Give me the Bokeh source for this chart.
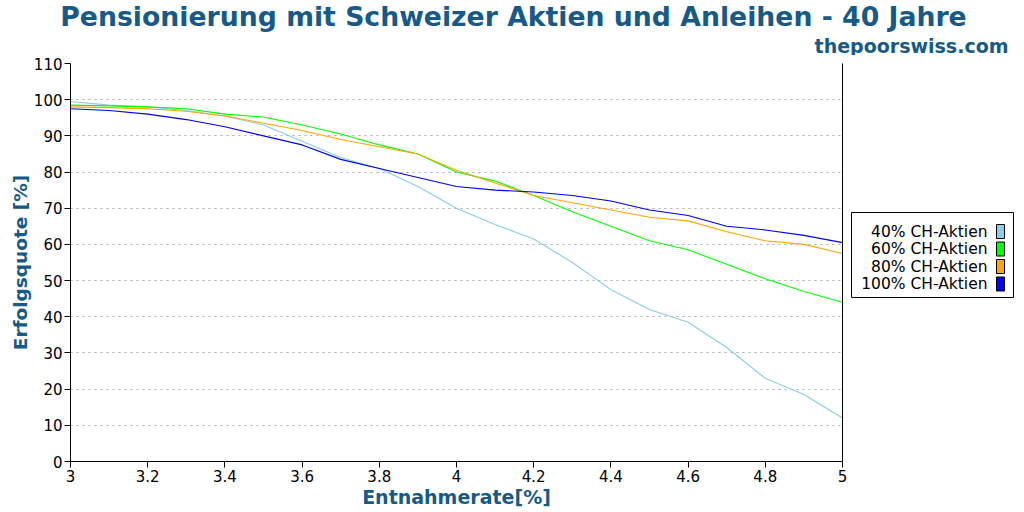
from bokeh.plotting import figure
from bokeh.layouts import column, row
from bokeh.models import LinearAxis, FixedTicker, Range1d
from bokeh.core.properties import value
from bokeh.embed import file_html
from bokeh.resources import INLINE

rates = [3.0, 3.1, 3.2, 3.3, 3.4, 3.5, 3.6, 3.7, 3.8, 3.9, 4.0,
         4.1, 4.2, 4.3, 4.4, 4.5, 4.6, 4.7, 4.8, 4.9, 5.0]
ch40 = [99.5, 98.5, 98.0, 97.0, 95.5, 93.0, 88.5, 84.0, 81.0, 76.0, 70.0,
        65.5, 61.5, 55.0, 47.5, 42.0, 38.5, 31.5, 23.0, 18.5, 12.0]
ch60 = [98.5, 98.3, 98.0, 97.5, 96.0, 95.2, 93.0, 90.5, 87.5, 85.0, 80.0,
        77.5, 73.5, 69.0, 65.0, 61.0, 58.5, 54.5, 50.5, 47.0, 44.0]
ch80 = [98.0, 97.8, 97.5, 96.8, 95.5, 93.5, 91.5, 89.0, 87.0, 85.0, 80.5,
        77.0, 73.5, 71.5, 69.5, 67.5, 66.5, 63.5, 61.0, 60.0, 57.5]
ch100 = [97.5, 97.0, 96.0, 94.5, 92.5, 90.0, 87.5, 83.5, 81.0, 78.5, 76.0,
         75.0, 74.5, 73.5, 72.0, 69.5, 68.0, 65.0, 64.0, 62.5, 60.5]
series_names = ["40% CH-Aktien", "60% CH-Aktien", "80% CH-Aktien", "100% CH-Aktien"]
series_values = [ch40, ch60, ch80, ch100]
series_colors = ["#87ceeb", "#00ff00", "#ffa500", "#0000ff"]

x_ticks = [3.0, 3.2, 3.4, 3.6, 3.8, 4.0, 4.2, 4.4, 4.6, 4.8, 5.0]
x_tick_labels = ["3", "3.2", "3.4", "3.6", "3.8", "4", "4.2", "4.4", "4.6", "4.8", "5"]
y_ticks = [0, 10, 20, 30, 40, 50, 60, 70, 80, 90, 100, 110]

title_text = "Pensionierung mit Schweizer Aktien und Anleihen - 40 Jahre"
subtitle_text = "thepoorswiss.com"
x_label = "Entnahmerate[%]"
y_label = "Erfolgsquote [%]"

BLUE = "#175a87"
FONT = "DejaVu Sans"
TOP_H = 55
MAIN_W = 70 + 772 + 8
SIDE_W = 1024 - MAIN_W
SIDE_H = 512 - TOP_H
LEG_TOP = 64  # observed page y of the side strip's top edge


def blank_fig(w, h, xr, yr):
    f = figure(frame_width=w, frame_height=h, x_range=xr, y_range=yr,
               output_backend="svg", toolbar_location=None, min_border=0,
               outline_line_color=None, x_axis_type=None, y_axis_type=None,
               title=None, align="start")
    f.grid.visible = False
    f.background_fill_color = "white"
    f.border_fill_color = "white"
    return f


# ---- title strip (pixel coordinates, y downward)
top = blank_fig(1024, TOP_H, Range1d(0, 1024), Range1d(TOP_H, 0))
top.text(x=[513], y=[16], text=[title_text], text_font=value(FONT),
         text_font_size="26.7px", text_font_style="bold", text_color=BLUE,
         text_align="center", text_baseline="middle")
top.text(x=[1008], y=[45], text=[subtitle_text], text_font=value(FONT),
         text_font_size="19px", text_font_style="bold", text_color=BLUE,
         text_align="right", text_baseline="middle")

# ---- main chart
p = figure(frame_width=772, frame_height=398, output_backend="svg",
           toolbar_location=None, x_range=Range1d(3, 5), y_range=Range1d(0, 110),
           min_border_left=70, min_border_right=8, min_border_top=63 - TOP_H,
           min_border_bottom=51, outline_line_color=None, align="start")
p.background_fill_color = "white"
p.border_fill_color = "white"

for vals, col in zip(series_values, series_colors):
    p.line(rates, vals, line_color=col, line_width=1.1)

p.xgrid.grid_line_color = None
p.ygrid.ticker = FixedTicker(ticks=y_ticks)
p.ygrid.grid_line_color = "#aaaaaa"
p.ygrid.grid_line_dash = "2 4"
p.ygrid.grid_line_width = 1

for ax in (p.xaxis[0], p.yaxis[0]):
    ax.axis_line_color = "black"
    ax.major_tick_line_color = "black"
    ax.major_tick_in = 0
    ax.major_tick_out = 6
    ax.minor_tick_line_color = None
    ax.major_label_text_font = FONT
    ax.major_label_text_font_size = "15px"
    ax.major_label_text_color = "black"
    ax.axis_label_text_font = FONT
    ax.axis_label_text_font_size = "19px"
    ax.axis_label_text_font_style = "bold"
    ax.axis_label_text_color = BLUE

p.yaxis[0].axis_label_text_font_size = "18.5px"
p.xaxis[0].ticker = FixedTicker(ticks=x_ticks)
p.xaxis[0].major_label_overrides = {t: l for t, l in zip(x_ticks, x_tick_labels)}
p.xaxis[0].axis_label = x_label
p.xaxis[0].major_label_standoff = 2
p.xaxis[0].axis_label_standoff = 1
p.yaxis[0].ticker = FixedTicker(ticks=y_ticks)
p.yaxis[0].axis_label = y_label
p.yaxis[0].major_label_standoff = 2
p.yaxis[0].axis_label_standoff = 0

right = LinearAxis(ticker=FixedTicker(ticks=[]), major_tick_line_color=None,
                   minor_tick_line_color=None, axis_line_color="black")
p.add_layout(right, "right")

# ---- legend strip (pixel coordinates, y downward)
leg = blank_fig(SIDE_W, SIDE_H, Range1d(MAIN_W, 1024),
                Range1d(LEG_TOP + SIDE_H, LEG_TOP))
leg.quad(left=[851], right=[1013], top=[213], bottom=[298], fill_color="white",
         line_color="black", line_width=1)
ys = [232 + 17.5 * i for i in range(len(series_names))]
leg.text(x=[987] * len(series_names), y=ys, text=series_names, text_font=value(FONT),
         text_font_size="15.5px", text_color="black", text_align="right",
         text_baseline="middle")
leg.quad(left=[996] * 4, right=[1004] * 4, top=[y - 7 for y in ys],
         bottom=[y + 7 for y in ys], fill_color=series_colors, line_color="black",
         line_width=1)

layout = column(top, row(p, leg, align="start"), align="start")
open("out.html", "w").write(file_html(layout, INLINE))
